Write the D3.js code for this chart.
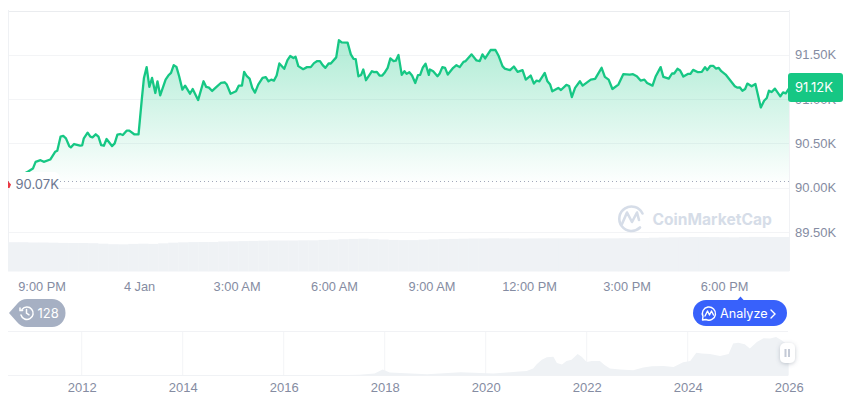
<!DOCTYPE html>
<html>
<head>
<meta charset="utf-8">
<script src="https://cdn.jsdelivr.net/npm/d3@7/dist/d3.min.js"></script>
<style>
  html, body { margin: 0; padding: 0; background: #fff; }
  svg { display: block; font-family: Inter, "Noto Sans", sans-serif; }
</style>
</head>
<body>
<svg id="chart"></svg>
<script>
// minutes from midnight of 4 Jan
const minutes = [-238,-204,-196,-191,-182,-176,-164,-155,-151,-145,-140,-135,-129,-126,-120,-109,-105,-102,-95,-90,-86,-80,-75,-70,-65,-60,-50,-45,-40,-35,-30,-23,-18,-9,-1,5,9,14,19,24,30,34,39,49,54,59,64,69,74,80,85,94,99,109,119,124,129,135,143,151,158,162,169,179,184,190,194,199,204,209,214,220,228,234,239,244,249,254,259,268,274,279,285,289,294,303,310,317,323,329,334,339,344,350,354,364,369,374,385,391,396,400,405,410,414,419,430,434,439,444,449,454,459,464,470,474,479,485,490,494,499,504,510,515,519,524,529,535,537,543,551,555,560,565,570,580,586,592,599,603,614,623,629,634,639,649,658,664,671,675,685,692,699,708,714,723,729,734,739,749,754,759,763,774,779,789,794,799,805,814,819,834,842,854,860,867,874,885,894,906,912,919,926,933,938,948,954,963,968,978,984,988,994,999,1005,1014,1018,1023,1032,1039,1045,1049,1055,1060,1065,1070,1075,1083,1100,1105,1109,1114,1119,1123,1131,1138,1148,1154,1159,1163,1168,1174,1184,1189,1194,1200];
const prices = [90070,90186,90216,90292,90311,90292,90318,90405,90417,90576,90584,90557,90470,90455,90493,90474,90478,90557,90622,90576,90569,90603,90576,90481,90474,90550,90470,90500,90599,90606,90595,90644,90644,90603,90603,90993,91239,91361,91137,91239,91069,91201,91042,91220,91266,91296,91383,91364,91258,91107,91152,91061,91114,90989,91201,91137,91129,91092,91137,91182,91190,91164,91061,91088,91152,91152,91308,91258,91232,91126,91073,91164,91239,91247,91201,91220,91209,91266,91402,91342,91440,91486,91463,91478,91372,91338,91361,91361,91406,91429,91429,91383,91353,91402,91402,91471,91664,91641,91637,91505,91455,91452,91258,91273,91334,91213,91315,91304,91308,91266,91266,91304,91353,91459,91429,91433,91497,91273,91315,91285,91304,91266,91182,91270,91273,91357,91399,91273,91334,91315,91258,91289,91361,91353,91277,91353,91383,91361,91421,91429,91505,91436,91429,91505,91459,91554,91554,91486,91372,91345,91327,91368,91308,91327,91220,91266,91175,91209,91201,91296,91201,91164,91088,91126,91103,91160,91148,91023,91126,91201,91152,91220,91228,91353,91251,91220,91114,91164,91281,91277,91281,91258,91209,91220,91182,91152,91258,91361,91251,91232,91289,91289,91342,91323,91254,91285,91285,91330,91304,91308,91361,91327,91376,91376,91345,91353,91315,91277,91145,91129,91133,91095,91114,91175,91145,91171,90906,90982,91012,91095,91080,91118,91031,91076,91065,91120];
const volumes = [29.3,29.3,29,29,28.8,28.6,28.5,28.5,28.3,27.8,27.3,27.2,27.6,27.8,27.6,28.2,28.8,29.2,29.4,29.5,29.5,30,30.2,30.4,30.6,30.8,31,31,31,31.2,31.2,31.6,31.8,32.3,32.6,32.8,32.4,32,31.6,31.4,31.4,31.8,32.2,32.4,32.6,32.8,33,33,33.2,33.2,33,33,33.1,33.2,33.2,33.2,33.1,33.1,33.1,33.2,33.2,33.3,33.3,33.5,33.8,34,34.2,34.3,34.5,34.5,34.4,34.3,34.2,34.4,34.6,34.6,34.5,34.5];
const priceTicks = [89500,90000,90500,91000,91500];
const timeTicks = [-180,0,180,360,540,720,900,1080];
const timeLabels = ["9:00 PM","4 Jan","3:00 AM","6:00 AM","9:00 AM","12:00 PM","3:00 PM","6:00 PM"];
const openPrice = 90070;
const lastPrice = 91120;

// full history for the navigator (decimal year, price in K)
const histYears = [2010.54,2012,2014,2016,2017,2017.5,2017.8,2017.96,2018.1,2018.84,2019.5,2020.15,2020.6,2020.81,2020.94,2021.01,2021.11,2021.21,2021.34,2021.41,2021.51,2021.6,2021.7,2021.82,2021.9,2022,2022.1,2022.26,2022.36,2022.46,2022.66,2022.92,2023.12,2023.29,2023.52,2023.72,2023.91,2024.05,2024.17,2024.28,2024.44,2024.64,2024.81,2024.9,2025,2025.13,2025.23,2025.37,2025.5,2025.63,2025.75,2025.86,2026];
const histPrices = [0,0.5,0.8,0.5,1,2.5,6,18,9,4,10,6,11,14,21,34,48,55,57,38,33,44,48,65,57,41,44,44,31,21,18,16,24,28,29,26,40,44,69,67,65,59,65,97,99,95,82,102,113,112,117,107,91];
const yearTicks = [2012,2014,2016,2018,2020,2022,2024,2026];

const width = 860, height = 401;
const green = "#16c784", labelColor = "#858ca2", gridColor = "#f3f4f6";

const svg = d3.select("#chart").attr("width", width).attr("height", height).attr("viewBox", [0, 0, width, height]);

const x = d3.scaleLinear([-242, 1200], [8, 789]);
const y = d3.scaleLinear([89060, 92000], [271, 10.5]);
const yVol = d3.scaleLinear([0, 39], [271.5, 232.5]);
const xVol = d3.scaleBand(d3.range(volumes.length), [8, 789]);
const xHist = d3.scaleLinear([2010.54, 2026], [8, 788.7]);
const yHist = d3.scaleLinear([0, 135], [375.5, 331]);

const I = d3.range(minutes.length);

const grad = svg.append("defs").append("linearGradient")
  .attr("id", "fade").attr("gradientUnits", "userSpaceOnUse")
  .attr("x1", 0).attr("x2", 0).attr("y1", y(91664)).attr("y2", y(openPrice));
grad.append("stop").attr("offset", 0).attr("stop-color", green).attr("stop-opacity", 0.34);
grad.append("stop").attr("offset", 1).attr("stop-color", green).attr("stop-opacity", 0.01);

const shadow = svg.select("defs").append("filter").attr("id", "soft")
  .attr("x", "-50%").attr("y", "-50%").attr("width", "200%").attr("height", "200%");
shadow.append("feDropShadow").attr("dx", 0).attr("dy", 1).attr("stdDeviation", 2).attr("flood-color", "#58667e").attr("flood-opacity", 0.35);

// frame and grid
svg.append("g")
  .selectAll("line").data([...priceTicks, 92000]).join("line")
  .attr("x1", 8).attr("x2", 789)
  .attr("y1", d => Math.round(y(d)) + 0.5).attr("y2", d => Math.round(y(d)) + 0.5)
  .attr("stroke", d => d === 92000 ? "#eaecef" : gridColor);
svg.append("line").attr("x1", 8.5).attr("x2", 8.5).attr("y1", 10).attr("y2", 271).attr("stroke", "#eff1f4");
svg.append("line").attr("x1", 789.5).attr("x2", 789.5).attr("y1", 10).attr("y2", 271).attr("stroke", "#f1f2f5");

// watermark
const mark = svg.append("g").attr("fill", "none").attr("stroke", "#d6dde8").attr("stroke-width", 2.6).attr("stroke-linecap", "round").attr("stroke-linejoin", "round");
mark.append("path").attr("d", "M642.5 213.5A12.2 12.2 0 1 0 640 227.5");
mark.append("path").attr("d", "M622 224L627 212.5L632 222L637 212.5L639 220");
svg.append("text").attr("x", 652.5).attr("y", 225).attr("font-size", 15.6).attr("font-weight", 700).attr("fill", "#d6dde8").text("CoinMarketCap");

// volume
svg.append("g").attr("fill", "#eff2f5")
  .selectAll("rect").data(volumes).join("rect")
  .attr("x", (d, i) => xVol(i))
  .attr("width", xVol.bandwidth() + 0.3)
  .attr("y", d => yVol(d))
  .attr("height", d => yVol(0) - yVol(d));

// price area and line
svg.append("path")
  .datum(I)
  .attr("fill", "url(#fade)")
  .attr("d", d3.area().x(i => x(minutes[i])).y0(y(openPrice)).y1(i => y(prices[i])));
svg.append("path")
  .datum(I)
  .attr("fill", "none")
  .attr("stroke", green)
  .attr("stroke-width", 2.3)
  .attr("stroke-linejoin", "round")
  .attr("d", d3.line().x(i => x(minutes[i])).y(i => y(prices[i])));

// open price marker
svg.append("line")
  .attr("x1", 8).attr("x2", 789)
  .attr("y1", y(openPrice)).attr("y2", y(openPrice))
  .attr("stroke", "#a1a7bb").attr("stroke-width", 1).attr("stroke-dasharray", "1 3");
svg.append("rect").attr("x", 9).attr("y", 172).attr("width", 51).attr("height", 20).attr("rx", 6).attr("fill", "#fff");
svg.append("path").attr("d", "M8 181L11 184.5L9.5 188L8 188Z").attr("fill", "#ea3943");
svg.append("text").attr("x", 15.5).attr("y", y(openPrice) + 7.5).attr("font-size", 13).attr("fill", "#6b7690").text(d3.format(".2f")(openPrice / 1000) + "K");

// y axis
const yAxis = svg.append("g")
  .attr("transform", "translate(795,0)")
  .call(d3.axisRight(y).tickValues(priceTicks).tickSize(0).tickPadding(0).tickFormat(d => d3.format(".2f")(d / 1000) + "K"));
yAxis.select(".domain").remove();
yAxis.selectAll("text").attr("font-family", "inherit").attr("font-size", 13).attr("fill", labelColor);

// last price tag
svg.append("rect").attr("x", 788).attr("y", 73).attr("width", 55).attr("height", 29).attr("rx", 3).attr("fill", green);
svg.append("text").attr("x", 795).attr("y", 92).attr("font-size", 13).attr("fill", "#fff").text(d3.format(".2f")(lastPrice / 1000) + "K");

// time axis
const xAxis = svg.append("g")
  .attr("transform", "translate(0,282)")
  .call(d3.axisBottom(x).tickValues(timeTicks).tickSize(0).tickPadding(0).tickFormat((d, i) => timeLabels[i]));
xAxis.select(".domain").remove();
xAxis.selectAll("text").attr("font-family", "inherit").attr("font-size", 12.8).attr("fill", labelColor);

// 128 pill
svg.append("path").attr("d", "M9 313L17 304Q21 299 27 299H52A13.5 14 0 0 1 52 327H27Q21 327 17 322Z").attr("fill", "#a6b0c3");
const clock = svg.append("g").attr("fill", "none").attr("stroke", "#fff").attr("stroke-width", 1.5).attr("stroke-linecap", "round");
clock.append("path").attr("d", "M22 309.5A6.2 6.2 0 1 1 21 315");
clock.append("path").attr("d", "M26.5 309.5V313.2L29 314.8");
clock.append("path").attr("d", "M20 308V310.6H22.6");
svg.append("text").attr("x", 37.5).attr("y", 317.5).attr("font-size", 13).attr("fill", "#fff").text("128");

// analyze button
svg.append("path").attr("d", "M737 300.5L740.5 296.5L744 300.5Z").attr("fill", "#3861fb");
svg.append("rect").attr("x", 693).attr("y", 300).attr("width", 94).attr("height", 26).attr("rx", 13).attr("fill", "#3861fb");
const chat = svg.append("g").attr("fill", "none").attr("stroke", "#fff").attr("stroke-width", 1.4).attr("stroke-linecap", "round").attr("stroke-linejoin", "round");
chat.append("path").attr("d", "M702.5 320L703 316.5A6.6 6.6 0 1 1 706 319.5Z");
chat.append("path").attr("d", "M705 316L707.5 311L709.5 315L711.5 311L713.5 315");
svg.append("text").attr("x", 720).attr("y", 318).attr("font-size", 12.6).attr("font-weight", 400).attr("fill", "#fff").text("Analyze");
svg.append("path").attr("d", "M771 310L775 314L771 318").attr("fill", "none").attr("stroke", "#fff").attr("stroke-width", 1.4).attr("stroke-linecap", "round");

// navigator
svg.append("g").attr("stroke", "#f3f4f6")
  .selectAll("line").data(yearTicks.slice(0, -1)).join("line")
  .attr("x1", d => xHist(d)).attr("x2", d => xHist(d))
  .attr("y1", 331).attr("y2", 375.5);
svg.append("line").attr("x1", 8).attr("x2", 788).attr("y1", 331.5).attr("y2", 331.5).attr("stroke", "#f1f2f5");
svg.append("line").attr("x1", 8).attr("x2", 788).attr("y1", 375.5).attr("y2", 375.5).attr("stroke", "#f1f2f5");
svg.append("path")
  .datum(d3.range(histYears.length))
  .attr("fill", "#eff2f5")
  .attr("d", d3.area().x(i => xHist(histYears[i])).y0(yHist(0)).y1(i => yHist(histPrices[i])));

const histAxis = svg.append("g")
  .attr("transform", "translate(0,383)")
  .call(d3.axisBottom(xHist).tickValues(yearTicks).tickSize(0).tickPadding(0).tickFormat(d3.format("d")));
histAxis.select(".domain").remove();
histAxis.selectAll("text").attr("font-family", "inherit").attr("font-size", 13).attr("fill", labelColor);

// navigator handle
svg.append("rect").attr("x", 780).attr("y", 343).attr("width", 15).attr("height", 20).attr("rx", 5).attr("fill", "#fff").attr("filter", "url(#soft)");
svg.append("g").attr("fill", "#c4cad6")
  .selectAll("rect").data([784.5, 788]).join("rect")
  .attr("x", d => d).attr("y", 349).attr("width", 2).attr("height", 8);
</script>
</body>
</html>
